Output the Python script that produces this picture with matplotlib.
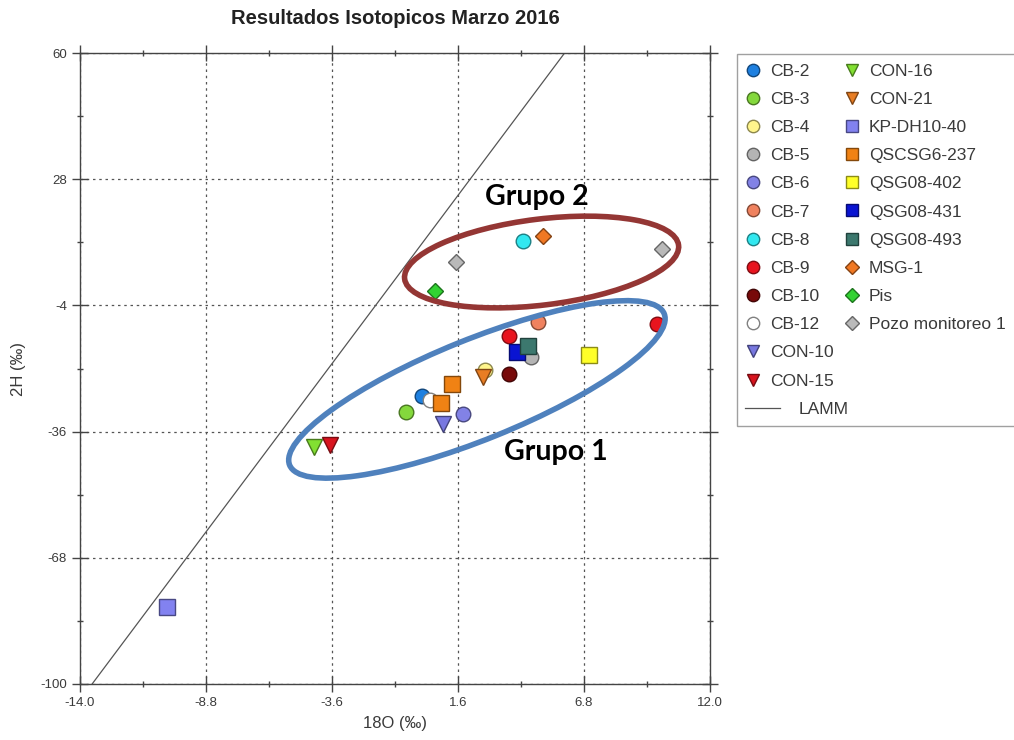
import matplotlib
matplotlib.use('Agg')
import matplotlib.pyplot as plt
from matplotlib.patches import Ellipse
from matplotlib.lines import Line2D
from matplotlib.legend_handler import HandlerBase
from matplotlib.transforms import IdentityTransform, Affine2D
from matplotlib.colors import to_rgb

plt.rcParams['font.family'] = ['Liberation Sans', 'DejaVu Sans']
plt.rcParams['axes.unicode_minus'] = False

# sample names as in the legend (column order)
samples = ['CB-2', 'CB-3', 'CB-4', 'CB-5', 'CB-6', 'CB-7', 'CB-8', 'CB-9', 'CB-10', 'CB-12',
           'CON-10', 'CON-15', 'CON-16', 'CON-21', 'KP-DH10-40', 'QSCSG6-237', 'QSG08-402',
           'QSG08-431', 'QSG08-493', 'MSG-1', 'Pis', 'Pozo monitoreo 1']

# delta 18O (permil)
d18o = [[0.1], [-0.55], [2.7], [4.6], [1.8], [4.9], [4.3], [3.7, 9.8], [3.7], [0.45],
        [1.0], [-3.7], [-4.35], [2.65], [-10.4], [1.35, 0.9], [7.0],
        [4.05], [4.5], [5.1], [0.65], [1.5, 10.0]]

# delta 2H (permil)
d2h = [[-27.0], [-31.0], [-20.4], [-17.0], [-31.5], [-8.2], [12.3], [-11.8, -8.7], [-21.4], [-28.0],
       [-34.1], [-39.4], [-39.9], [-22.2], [-80.5], [-23.9, -28.7], [-16.6],
       [-15.8], [-14.4], [13.6], [-0.3], [7.0, 10.3]]

# local meteoric water line (LAMM) end points
lamm_x = [-13.5, 6.0]
lamm_y = [-100.0, 60.0]

x_ticks = [-14.0, -8.8, -3.6, 1.6, 6.8, 12.0]
y_ticks = [-100, -68, -36, -4, 28, 60]

# group annotations: label, text position, ellipse centre (data), size px, angle
groups = [('Grupo 2', (4.85, 23.5), (5.05, 7.0), 276, 86, 7, '#943634'),
          ('Grupo 1', (5.65, -41.2), (2.38, -25.3), 404, 100, 22, '#4F81BD')]

markers = ['o'] * 10 + ['v'] * 4 + ['s'] * 5 + ['D'] * 3
colors = ['#1E80E0', '#84D83C', '#FFF58C', '#B4B4B4', '#8282E6', '#F0825F', '#32E8F0', '#E8141E',
          '#780A0A', '#FFFFFF', '#7878E0', '#D8141E', '#82E032', '#E87D23', '#8282F0', '#F08214',
          '#FFFF28', '#0A14D2', '#3C786E', '#F07823', '#32D232', '#B9B9B9']


def darker(c, f=0.55):
    r, g, b = to_rgb(c)
    if (r, g, b) == (1.0, 1.0, 1.0):
        return '#808080'
    return (r * f, g * f, b * f)


class LongLineHandler(HandlerBase):
    # LAMM sample line in the legend is longer than the marker boxes
    def create_artists(self, legend, orig_handle, xdescent, ydescent, width, height, fontsize, trans):
        y = height / 2 - ydescent
        ln = Line2D([-xdescent - 1, -xdescent + width + 14], [y, y],
                    color=orig_handle.get_color(), linewidth=orig_handle.get_linewidth())
        ln.set_transform(trans)
        return [ln]


fig = plt.figure(figsize=(10.14, 7.4), dpi=100)
ax = fig.add_axes([80 / 1014, 56 / 740, 630 / 1014, 631 / 740])

ax.set_xlim(-14, 12)
ax.set_ylim(-100, 60)
ax.set_xticks(x_ticks)
ax.set_xticklabels(['%.1f' % v for v in x_ticks])
ax.set_yticks(y_ticks)
ax.set_xticks([(a + b) / 2 for a, b in zip(x_ticks[:-1], x_ticks[1:])], minor=True)
ax.set_yticks([(a + b) / 2 for a, b in zip(y_ticks[:-1], y_ticks[1:])], minor=True)
ax.grid(True, which='major', linestyle=(0, (2, 3)), color='#555555', linewidth=0.9)
ax.tick_params(which='major', direction='inout', length=11, width=1, color='#444444',
               labelsize=9.5, labelcolor='#3a3a3a', top=True, right=True, pad=4)
ax.tick_params(which='minor', direction='inout', length=4, width=1, color='#444444', top=True, right=True)
for s in ax.spines.values():
    s.set_color('#444444')
    s.set_linewidth(1.0)

handles = []
for name, xs, ys, m, c in zip(samples, d18o, d2h, markers, colors):
    size = {'o': 10.5, 'v': 11, 's': 11, 'D': 8.5}[m]
    h, = ax.plot(xs, ys, linestyle='none', marker=m, markersize=size, markerfacecolor=c,
                 markeredgecolor=darker(c), markeredgewidth=1.0, label=name, zorder=3)
    handles.append(h)

lamm, = ax.plot(lamm_x, lamm_y, color='#555555', linewidth=0.9, label='LAMM', zorder=2)

fig.text(395 / 1014, 1 - 18 / 740, 'Resultados Isotopicos Marzo 2016', fontsize=14.5,
         fontweight='bold', color='#222222', ha='center', va='center')
ax.set_xlabel('18O (‰)', fontsize=12, color='#3a3a3a', labelpad=5)
ax.set_ylabel('2H (‰)', fontsize=12, color='#3a3a3a', labelpad=10)

# group ellipses, sized in pixels around a data-space centre
for label, tpos, cen, w, h, ang, col in groups:
    px, py = ax.transData.transform(cen)
    e = Ellipse((px, py), w, h, angle=ang, transform=IdentityTransform(), fill=False,
                edgecolor=col, linewidth=4, zorder=5, clip_on=False)
    fig.add_artist(e)
    ax.text(tpos[0], tpos[1], label, fontsize=20.5, fontweight='bold', family=['Lato', 'DejaVu Sans'],
            ha='center', va='center', color='black', zorder=6)

blank = Line2D([], [], linestyle='none')
leg_handles = handles[:12] + [lamm] + handles[12:] + [blank] * 3
leg_labels = samples[:12] + ['LAMM'] + samples[12:] + [''] * 3
leg = fig.legend(leg_handles, leg_labels, ncol=2, loc='upper left',
                 bbox_to_anchor=(737 / 1014, 686 / 740), bbox_transform=fig.transFigure,
                 fontsize=12.5, frameon=True, fancybox=False, edgecolor='#888888',
                 borderpad=0.55, borderaxespad=0, handlelength=0.8, handletextpad=0.55,
                 labelspacing=0.75, columnspacing=0.66, markerscale=0.85,
                 handler_map={lamm: LongLineHandler()})
leg.get_frame().set_linewidth(1.0)
for t in leg.get_texts():
    t.set_color('#3a3a3a')
# push the LAMM label past its longer line
lamm_text = leg.get_texts()[12]
lamm_text.set_transform(lamm_text.get_transform() + Affine2D().translate(29, 0))

fig.savefig('out.png', dpi=100)
